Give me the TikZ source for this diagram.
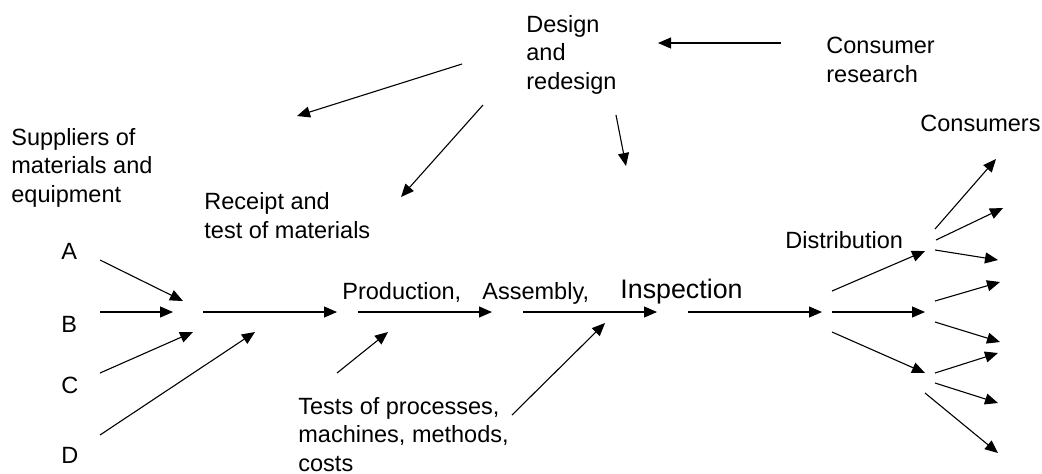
\documentclass[tikz,border=0pt]{standalone}
\usepackage{fontspec}
\setmainfont{Liberation Sans}
\usetikzlibrary{arrows.meta}

\begin{document}
\begin{tikzpicture}[x=0.5pt,y=-0.5pt]
\tikzstyle{fleche}=[-{Triangle[length=6.5pt,width=5.5pt]},line width=0.55pt]
\tikzset{texte/.style={anchor=base west,inner sep=0pt,align=left,font=\fontsize{#1}{14.25}\selectfont},
texte/.default={11.75}}
\useasboundingbox (0,0) rectangle (1042,473);

% textes (base = derniere ligne)
\node[texte] (design) at (526,89){Design\\and\\redesign};
\node[texte] (recherche) at (826,82){Consumer\\research};
\node[texte] (consommateurs) at (920,131){Consumers};
\node[texte] (fournisseurs) at (11,202){Suppliers of\\materials and\\equipment};
\node[texte] (reception) at (204,238){Receipt and\\test of materials};
\node[texte] (A) at (61,259){A};
\node[texte] (B) at (61,332){B};
\node[texte] (C) at (61,393){C};
\node[texte] (D) at (61,463){D};
\node[texte] (production) at (342,299){Production,};
\node[texte] (assemblage) at (482,299){Assembly,};
\node[texte=13.4] (inspection) at (620,298){Inspection};
\node[texte] (distribution) at (785,248){Distribution};
\node[texte] (tests) at (298,471){Tests of processes,\\machines, methods,\\costs};

% conception
\coordinate (r1) at (781,43);  \coordinate (r2) at (658,43);
\coordinate (c1) at (462,64);  \coordinate (c2) at (297,116);
\coordinate (c3) at (483,105); \coordinate (c4) at (401,197);
\coordinate (c5) at (616,115); \coordinate (c6) at (626,166);
\draw[fleche] (r1) -- (r2);
\draw[fleche] (c1) -- (c2);
\draw[fleche] (c3) -- (c4);
\draw[fleche] (c5) -- (c6);

% fournisseurs
\coordinate (a1) at (100,260); \coordinate (a2) at (183,301);
\coordinate (b1) at (100,312); \coordinate (b2) at (173,312);
\coordinate (cc1) at (100,373); \coordinate (cc2) at (193,332);
\coordinate (dd1) at (100,435); \coordinate (dd2) at (255,332);
\draw[fleche] (a1) -- (a2);
\draw[fleche] (b1) -- (b2);
\draw[fleche] (cc1) -- (cc2);
\draw[fleche] (dd1) -- (dd2);

% chaine principale
\coordinate (m1) at (203,312); \coordinate (m2) at (337,312);
\coordinate (m3) at (358,312); \coordinate (m4) at (492,312);
\coordinate (m5) at (523,312); \coordinate (m6) at (657,312);
\coordinate (m7) at (688,312); \coordinate (m8) at (822,312);
\draw[fleche] (m1) -- (m2);
\draw[fleche] (m3) -- (m4);
\draw[fleche] (m5) -- (m6);
\draw[fleche] (m7) -- (m8);

% tests
\coordinate (t1) at (337,373); \coordinate (t2) at (388,332);
\coordinate (t3) at (512,415); \coordinate (t4) at (605,323);
\draw[fleche] (t1) -- (t2);
\draw[fleche] (t3) -- (t4);

% distribution
\coordinate (p1) at (832,291); \coordinate (p2) at (925,251);
\coordinate (p3) at (832,312); \coordinate (p4) at (925,312);
\coordinate (p5) at (832,332); \coordinate (p6) at (925,373);
\draw[fleche] (p1) -- (p2);
\draw[fleche] (p3) -- (p4);
\draw[fleche] (p5) -- (p6);

% consommateurs
\coordinate (e1) at (935,229); \coordinate (f1) at (996,159);
\coordinate (e2) at (936,240); \coordinate (f2) at (1003,208);
\coordinate (e3) at (935,250); \coordinate (f3) at (998,260);
\coordinate (e4) at (935,301); \coordinate (f4) at (1000,282);
\coordinate (e5) at (935,322); \coordinate (f5) at (1000,342);
\coordinate (e6) at (935,373); \coordinate (f6) at (998,353);
\coordinate (e7) at (935,383); \coordinate (f7) at (998,403);
\coordinate (e8) at (925,393); \coordinate (f8) at (998,453);
\foreach \i in {1,...,8}
  \draw[fleche] (e\i) -- (f\i);
\end{tikzpicture}
\end{document}
